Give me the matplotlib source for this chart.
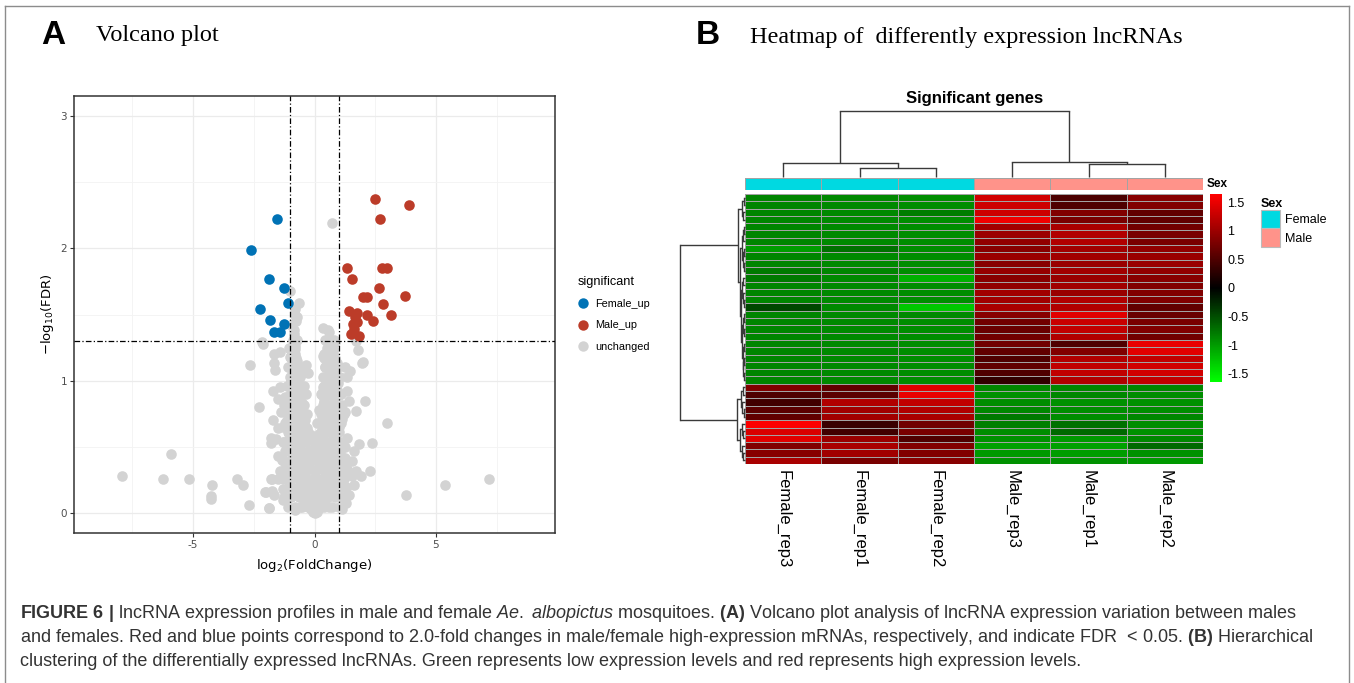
import matplotlib
matplotlib.use('Agg')
import matplotlib.pyplot as plt
import numpy as np
from matplotlib import font_manager
from matplotlib.colors import LinearSegmentedColormap, ListedColormap
from matplotlib.lines import Line2D
from matplotlib.patches import Patch

W, H = 1354, 683


def has_font(name):
    try:
        font_manager.findfont(font_manager.FontProperties(family=name), fallback_to_default=False)
        return True
    except Exception:
        return False


NARROW = 'Liberation Sans Narrow' if has_font('Liberation Sans Narrow') else 'Liberation Sans'
SANS = 'Liberation Sans'
SERIF = 'Liberation Serif'

plt.rcParams['mathtext.fontset'] = 'custom'
plt.rcParams['mathtext.rm'] = NARROW
plt.rcParams['mathtext.it'] = NARROW + ':italic'
plt.rcParams['mathtext.bf'] = NARROW + ':bold'

# ---------------- Volcano data ----------------
fc_cut = 1.0
fdr_cut = 0.05

female_up_x = [-1.56, -2.62, -1.87, -1.26, -1.11, -2.25, -1.84, -1.26, -1.67, -1.43]
female_up_y = [2.22, 1.99, 1.77, 1.70, 1.59, 1.54, 1.46, 1.43, 1.37, 1.37]

male_up_x = [2.51, 3.90, 2.71, 1.33, 2.78, 2.98, 1.54, 2.67, 2.00, 2.15, 3.74, 2.83,
             1.43, 1.76, 2.16, 3.13, 1.68, 2.42, 1.60, 1.77, 1.63, 1.51, 1.84]
male_up_y = [2.37, 2.33, 2.22, 1.85, 1.85, 1.85, 1.77, 1.70, 1.63, 1.63, 1.64, 1.58,
             1.53, 1.51, 1.50, 1.50, 1.48, 1.45, 1.43, 1.44, 1.39, 1.35, 1.34]

unchanged_points = [
    # outliers
    (-7.93, 0.28), (-5.92, 0.45), (-6.22, 0.26), (-5.17, 0.26), (-4.21, 0.21), (-4.24, 0.13),
    (-4.24, 0.11), (-3.21, 0.26), (-2.94, 0.21), (-2.69, 0.06), (-1.87, 0.04), (-2.05, 0.16),
    (-1.73, 0.17), (-1.77, 0.26), (2.98, 0.68), (2.36, 0.53), (2.29, 0.32), (3.75, 0.14),
    (5.36, 0.21), (7.20, 0.26), (0.71, 2.19), (-2.67, 1.12), (-2.18, 1.29), (-2.28, 0.80),
    (2.06, 0.85), (1.98, 1.14), (1.78, 1.23), (1.69, 1.30),
    # left arm
    (-0.99, 1.68), (-0.65, 1.59), (-0.80, 1.54), (-0.72, 1.48), (-0.82, 1.31), (-0.80, 1.26),
    (-2.12, 1.28), (-1.65, 1.20), (-1.43, 1.22), (-1.68, 1.13), (-1.62, 1.08), (-1.00, 1.18),
    (-0.80, 1.20), (-0.91, 1.08), (-0.37, 1.12), (-0.26, 1.06), (-0.65, 1.06), (-0.71, 1.00),
    (-1.08, 0.96), (-1.72, 0.92), (-1.43, 0.95), (-1.51, 0.86), (-1.22, 0.88), (-0.72, 0.93),
    (-0.37, 0.90), (-0.51, 0.83), (-1.36, 0.76), (-1.72, 0.70), (-1.15, 0.70), (-1.51, 0.64),
    (-0.94, 0.63), (-0.65, 0.68), (-1.79, 0.57), (-1.79, 0.53), (-1.58, 0.56), (-1.29, 0.54),
    (-1.51, 0.43), (-1.22, 0.47), (-1.43, 0.32), (-1.79, 0.26), (-1.51, 0.26), (-1.22, 0.28),
    (-2.00, 0.16), (-1.68, 0.14), (-1.15, 0.11), (-0.82, 0.02), (-1.86, 0.04),
    # right arm
    (0.33, 1.40), (0.60, 1.37), (0.84, 1.29), (0.77, 1.22), (0.34, 1.19), (0.70, 1.16),
    (0.91, 1.13), (0.63, 1.07), (1.26, 1.10), (1.48, 1.07), (1.34, 1.03), (1.95, 1.13),
    (0.63, 0.98), (0.91, 0.93), (1.34, 0.92), (0.34, 0.92), (1.41, 0.85), (1.26, 0.76),
    (1.69, 0.77), (0.41, 0.83), (0.63, 0.75), (1.12, 0.71), (0.77, 0.63), (1.34, 0.57),
    (1.83, 0.52), (1.62, 0.47), (1.26, 0.42), (1.55, 0.39), (1.69, 0.32), (1.90, 0.28),
    (1.55, 0.28), (1.62, 0.21), (1.41, 0.14), (1.12, 0.03),
    # central blob
    (0.00, 0.00), (-0.10, 0.02), (0.10, 0.01), (-0.05, 0.01), (0.05, 0.02), (-0.15, 0.03),
    (0.15, 0.03), (-0.25, 0.05), (0.25, 0.05), (0.00, 0.06), (-0.35, 0.08), (0.35, 0.08),
    (-0.10, 0.09), (0.12, 0.10), (-0.45, 0.11), (0.45, 0.11), (-0.60, 0.13), (0.60, 0.13),
    (-0.20, 0.14), (0.22, 0.15), (-0.75, 0.16), (0.75, 0.16), (0.00, 0.17), (-0.90, 0.18),
    (0.90, 0.18), (-0.35, 0.19), (0.38, 0.20), (-1.00, 0.21), (1.00, 0.22), (-0.55, 0.23),
    (0.55, 0.24), (-0.15, 0.25), (0.15, 0.26), (-1.10, 0.27), (1.10, 0.27), (-0.70, 0.28),
    (0.72, 0.29), (-0.40, 0.30), (0.42, 0.31), (0.00, 0.32), (-0.90, 0.33), (0.88, 0.34),
    (-0.25, 0.35), (0.27, 0.36), (-0.60, 0.37), (0.60, 0.38), (1.20, 0.36), (-1.20, 0.38),
    (-0.10, 0.40), (0.12, 0.41), (-0.80, 0.42), (0.80, 0.43), (-0.45, 0.44), (0.45, 0.45),
    (1.05, 0.46), (-1.00, 0.47), (-0.20, 0.48), (0.22, 0.49), (-0.65, 0.50), (0.65, 0.51),
    (0.95, 0.52), (-0.90, 0.53), (0.00, 0.54), (-0.35, 0.55), (0.35, 0.56), (-0.75, 0.57),
    (0.75, 0.58), (-0.15, 0.59), (0.18, 0.60), (-0.50, 0.61), (0.50, 0.62), (0.90, 0.63),
    (-1.05, 0.60), (-0.30, 0.64), (0.30, 0.66), (0.10, 0.68), (-0.70, 0.67), (0.70, 0.69),
    (1.30, 0.20), (-1.30, 0.18), (1.40, 0.30), (-1.35, 0.40), (1.25, 0.50), (-1.30, 0.10),
    (1.30, 0.08), (-0.60, 0.05), (0.60, 0.05),
    # arms, middle section
    (-1.00, 0.65), (-0.80, 0.72), (-0.60, 0.75), (-0.90, 0.80), (-0.70, 0.85), (-0.50, 0.82),
    (-1.10, 0.88), (-0.85, 0.92), (-0.60, 0.95), (-0.95, 1.00), (-0.75, 1.03), (-0.55, 1.05),
    (-0.90, 1.12), (-0.70, 1.15), (-1.05, 1.25), (-0.85, 1.35), (-0.95, 1.42), (-0.80, 1.50),
    (-1.20, 0.80), (-1.30, 0.65), (-0.40, 0.70),
    (0.30, 0.70), (0.50, 0.75), (0.70, 0.80), (0.40, 0.85), (0.60, 0.90), (0.80, 0.88),
    (1.00, 0.80), (0.35, 0.95), (0.55, 1.00), (0.75, 1.02), (0.95, 0.98), (0.45, 1.10),
    (0.65, 1.12), (0.85, 1.05), (0.50, 1.25), (0.70, 1.30), (0.40, 1.20), (1.10, 0.90),
    (1.20, 0.75), (1.00, 0.65), (0.20, 0.78), (0.25, 0.90),
    # dense core
    (-1.10, 0.05), (-0.80, 0.05), (-0.50, 0.05), (-0.20, 0.05), (0.10, 0.05), (0.40, 0.05),
    (0.70, 0.05), (1.00, 0.05),
    (-1.25, 0.12), (-0.95, 0.12), (-0.65, 0.12), (-0.35, 0.12), (-0.05, 0.12), (0.25, 0.12),
    (0.55, 0.12), (0.85, 0.12), (1.15, 0.12),
    (-1.10, 0.19), (-0.80, 0.19), (-0.50, 0.19), (-0.20, 0.19), (0.10, 0.19), (0.40, 0.19),
    (0.70, 0.19), (1.00, 0.19), (1.30, 0.19),
    (-1.30, 0.26), (-0.95, 0.26), (-0.65, 0.26), (-0.35, 0.26), (-0.05, 0.26), (0.25, 0.26),
    (0.55, 0.26), (0.85, 0.26), (1.20, 0.26),
    (-1.10, 0.33), (-0.80, 0.33), (-0.50, 0.33), (-0.20, 0.33), (0.10, 0.33), (0.40, 0.33),
    (0.70, 0.33), (1.00, 0.33), (1.35, 0.33),
    (-1.30, 0.40), (-0.95, 0.40), (-0.65, 0.40), (-0.35, 0.40), (-0.05, 0.40), (0.25, 0.40),
    (0.55, 0.40), (0.85, 0.40), (1.15, 0.40),
    (-1.10, 0.47), (-0.80, 0.47), (-0.50, 0.47), (-0.20, 0.47), (0.10, 0.47), (0.40, 0.47),
    (0.70, 0.47), (1.00, 0.47),
    (-1.25, 0.54), (-0.95, 0.54), (-0.65, 0.54), (-0.35, 0.54), (0.05, 0.54), (0.30, 0.54),
    (0.55, 0.54), (0.85, 0.54), (1.10, 0.54),
    (-1.10, 0.61), (-0.80, 0.61), (-0.50, 0.61), (-0.25, 0.61), (0.25, 0.61), (0.45, 0.61),
    (0.70, 0.61), (1.00, 0.61),
    (-1.20, 0.68), (-0.95, 0.68), (-0.70, 0.68), (-0.45, 0.68), (0.35, 0.68), (0.60, 0.68),
    (0.85, 0.68), (1.10, 0.68),
    (-1.05, 0.75), (-0.80, 0.75), (-0.55, 0.75), (-0.30, 0.75), (0.25, 0.75), (0.50, 0.75),
    (0.75, 0.75), (1.00, 0.75),
    (-1.25, 0.82), (-0.95, 0.82), (-0.70, 0.82), (-0.45, 0.82), (0.35, 0.82), (0.60, 0.82),
    (0.85, 0.82), (1.15, 0.82),
    (-1.00, 0.89), (-0.80, 0.89), (-0.55, 0.89), (0.30, 0.89), (0.50, 0.89), (0.75, 0.89),
    (1.00, 0.89),
    (-1.15, 0.96), (-0.90, 0.96), (-0.65, 0.96), (-0.45, 0.96), (0.40, 0.96), (0.65, 0.96),
    (0.90, 0.96),
    (-1.00, 1.03), (-0.80, 1.03), (-0.60, 1.03), (0.35, 1.03), (0.55, 1.03), (0.80, 1.03),
    (1.05, 1.03),
    (-1.10, 1.10), (-0.85, 1.10), (-0.65, 1.10), (0.45, 1.10), (0.70, 1.10), (0.95, 1.10),
    (-0.95, 1.17), (-0.75, 1.17), (0.40, 1.17), (0.60, 1.17), (0.85, 1.17),
    (-1.00, 1.24), (-0.80, 1.24), (0.55, 1.24), (0.75, 1.24),
    (-0.90, 1.31), (-0.70, 1.31), (0.45, 1.31), (0.80, 1.31),
    (-0.85, 1.38), (0.55, 1.38), (-0.75, 1.45),
]
unchanged_x = [p[0] for p in unchanged_points]
unchanged_y = [p[1] for p in unchanged_points]

sig_labels = ['Female_up', 'Male_up', 'unchanged']
sig_colors = ['#0072B5', '#BC3C29', '#D3D3D3']

# ---------------- Heatmap data ----------------
samples = ['Female_rep3', 'Female_rep1', 'Female_rep2', 'Male_rep3', 'Male_rep1', 'Male_rep2']
sample_sex = ['Female', 'Female', 'Female', 'Male', 'Male', 'Male']
sex_levels = ['Female', 'Male']
sex_colors = ['#00D9E1', '#FF938A']

expr_male_high = [
    [-0.85, -0.88, -0.90, 1.34, 0.48, 0.87],
    [-0.85, -0.88, -0.90, 1.31, 0.51, 0.82],
    [-0.85, -0.88, -0.80, 1.31, 0.82, 0.62],
    [-0.85, -0.88, -0.90, 1.54, 0.77, 0.62],
    [-0.85, -0.88, -0.90, 1.03, 1.08, 0.72],
    [-0.85, -0.88, -0.90, 0.99, 1.13, 0.77],
    [-0.85, -0.88, -0.90, 0.93, 1.13, 0.77],
    [-1.00, -0.72, -0.90, 0.87, 1.03, 0.93],
    [-0.85, -0.88, -0.90, 0.98, 1.03, 0.98],
    [-0.85, -0.88, -0.90, 0.87, 0.98, 0.98],
    [-0.78, -0.85, -0.90, 0.95, 1.03, 0.93],
    [-0.78, -0.88, -1.13, 0.87, 0.98, 0.87],
    [-0.85, -0.88, -0.90, 0.93, 1.03, 0.82],
    [-0.85, -0.88, -0.90, 1.03, 0.98, 0.82],
    [-0.85, -0.88, -0.90, 1.03, 1.13, 0.82],
    [-0.45, -0.88, -1.28, 1.08, 1.13, 0.62],
    [-0.85, -0.88, -0.88, 0.87, 1.44, 0.67],
    [-0.85, -0.88, -0.90, 0.72, 1.29, 0.77],
    [-0.85, -0.88, -0.90, 0.67, 1.23, 0.82],
    [-0.85, -0.88, -0.90, 0.72, 1.13, 0.72],
    [-0.85, -0.88, -0.90, 0.72, 0.51, 1.49],
    [-0.85, -0.88, -0.90, 0.62, 0.82, 1.44],
    [-0.85, -0.88, -0.90, 0.51, 1.13, 1.23],
    [-0.85, -0.88, -0.90, 0.62, 1.23, 1.34],
    [-0.85, -0.88, -0.90, 0.51, 1.23, 1.34],
    [-0.85, -0.88, -0.90, 0.31, 1.13, 1.23],
]
expr_female_high = [
    [0.82, 0.62, 1.44, -0.87, -0.87, -0.87],
    [0.51, 0.58, 1.49, -0.93, -0.87, -0.90],
    [0.41, 1.13, 1.23, -0.90, -0.93, -0.93],
    [0.58, 1.03, 1.13, -0.87, -0.90, -0.90],
    [0.62, 1.03, 1.08, -0.77, -0.90, -0.87],
    [1.62, 0.37, 0.72, -0.82, -0.72, -0.90],
    [1.39, 0.41, 0.77, -0.90, -0.67, -0.93],
    [1.44, 0.98, 0.51, -0.93, -0.98, -0.87],
    [0.82, 1.08, 0.82, -1.03, -1.03, -0.67],
    [0.87, 1.03, 0.82, -0.98, -1.00, -0.93],
    [1.08, 0.77, 0.87, -0.93, -0.93, -0.98],
]
scale_limit = 1.64
scale_ticks = [1.5, 1, 0.5, 0, -0.5, -1, -1.5]

# dendrograms: [height, left, right]; leaves are row / column indices
row_tree = [1.0,
            [0.105,
             [0.045, [0.02, 0, 1], [0.03, 2, 3]],
             [0.075,
              [0.05, [0.03, [0.015, 4, 5], 6], [0.035, [0.02, 7, 8], [0.02, 9, 10]]],
              [0.06,
               [0.045, [0.025, 11, 12], [0.03, 13, [0.015, 14, 15]]],
               [0.05, [0.03, [0.02, 16, 17], [0.02, 18, 19]],
                [0.035, [0.02, 20, 21], [0.025, [0.015, 22, 23], [0.02, 24, 25]]]]]]],
            [0.128,
             [0.06, [0.03, 26, 27], [0.04, 28, [0.02, 29, 30]]],
             [0.08, [0.04, 31, [0.025, 32, 33]], [0.05, 34, [0.03, 35, 36]]]]]
col_tree = [1.0, [0.21, 0, [0.13, 1, 2]], [0.23, 3, [0.19, 4, 5]]]

# ---------------- Figure ----------------
fig = plt.figure(figsize=(W / 100, H / 100), dpi=100)
fig.patch.set_facecolor('white')


def fbox(l, t, r, b):
    return [l / W, 1 - b / H, (r - l) / W, (b - t) / H]


def fx(px):
    return px / W


def fy(py):
    return 1 - py / H


# outer frame
for xs, ys in [([5, 5], [6, H]), ([5, 1349], [6, 6]), ([1349, 1349], [6, H])]:
    fig.add_artist(Line2D([fx(v) for v in xs], [fy(v) for v in ys], color='#8c8c8c', lw=1.0,
                          transform=fig.transFigure))

# panel titles
fig.text(fx(41), fy(36), 'A', fontsize=24, fontweight='bold', family=NARROW, va='center', ha='left')
fig.text(fx(96), fy(36), 'Volcano plot', fontsize=17.5, family=SERIF, va='center', ha='left')
fig.text(fx(696), fy(36), 'B', fontsize=24, fontweight='bold', family=NARROW, va='center', ha='left')
fig.text(fx(750), fy(37), 'Heatmap of  differently expression lncRNAs', fontsize=17.4, family=SERIF,
         va='center', ha='left')

# ---- Volcano ----
ax = fig.add_axes(fbox(74, 96, 555, 533))
ax.scatter(unchanged_x, unchanged_y, s=58, c=sig_colors[2], linewidths=0, zorder=2)
ax.scatter(female_up_x, female_up_y, s=58, c=sig_colors[0], linewidths=0, zorder=3)
ax.scatter(male_up_x, male_up_y, s=58, c=sig_colors[1], linewidths=0, zorder=3)
dash = (0, (4.5, 1.8, 1.0, 1.8))
for v in (-fc_cut, fc_cut):
    ax.axvline(v, color='black', lw=0.9, ls=dash, zorder=4)
ax.axhline(-np.log10(fdr_cut), color='black', lw=0.9, ls=dash, zorder=4)
ax.set_xlim(-9.9, 9.9)
ax.set_ylim(-0.15, 3.15)
ax.set_xticks([-5, 0, 5])
ax.set_xticklabels(['-5', '0', '5'])
ax.set_yticks([0, 1, 2, 3])
ax.set_xticks([-7.5, -2.5, 2.5, 7.5], minor=True)
ax.set_yticks([0.5, 1.5, 2.5], minor=True)
ax.grid(which='major', color='#EBEBEB', lw=0.9, zorder=0)
ax.grid(which='minor', color='#F3F3F3', lw=0.6, zorder=0)
ax.set_axisbelow(True)
for s in ax.spines.values():
    s.set_color('#333333')
    s.set_linewidth(1.1)
ax.tick_params(which='major', length=3, width=0.8, color='#333333', labelcolor='#4D4D4D',
               labelsize=7.5, pad=2)
ax.tick_params(which='minor', length=0)
ax.set_xlabel('log$_2$(FoldChange)', fontsize=9.5, family='DejaVu Sans', math_fontfamily='dejavusans',
              labelpad=5)
ax.set_ylabel('\u2212log$_{10}$(FDR)', fontsize=9.5, family='DejaVu Sans', math_fontfamily='dejavusans',
              labelpad=3)

vol_handles = [Line2D([], [], ls='none', marker='o', markersize=7.5, markerfacecolor=c,
                      markeredgewidth=0, label=l) for c, l in zip(sig_colors, sig_labels)]
leg = fig.legend(handles=vol_handles, title='significant', loc='upper left',
                 bbox_to_anchor=(fx(570), fy(268)), frameon=False, fontsize=7.8,
                 title_fontsize=9.2, handlelength=1.0, handletextpad=0.6, labelspacing=1.05,
                 borderpad=0.2, alignment='left')
for t in leg.get_texts():
    t.set_family(SANS)
leg.get_title().set_family(SANS)

# ---- Heatmap ----
expr = np.array(expr_male_high + expr_female_high)
nrow, ncol = expr.shape
cmap = LinearSegmentedColormap.from_list('gbr', ['#00FF00', '#000000', '#FF0000'], N=256)
grid_col = '#A3A3A3'

axh = fig.add_axes(fbox(745, 194, 1203, 464))
mesh = axh.pcolormesh(expr, cmap=cmap, vmin=-scale_limit, vmax=scale_limit,
                      edgecolors=grid_col, linewidth=0.6)
axh.set_xlim(0, ncol)
axh.set_ylim(nrow, 0)
for s in axh.spines.values():
    s.set_visible(False)
axh.set_yticks([])
axh.set_xticks(np.arange(ncol) + 0.5)
axh.set_xticklabels(samples, rotation=270, fontsize=12, family=SANS)
axh.tick_params(axis='x', length=0, pad=4)

# annotation bar
axa = fig.add_axes(fbox(745, 178, 1203, 190))
codes = [[sex_levels.index(s) for s in sample_sex]]
axa.pcolormesh(codes, cmap=ListedColormap(sex_colors), vmin=-0.5, vmax=1.5,
               edgecolors=grid_col, linewidth=0.7)
axa.set_xlim(0, ncol)
axa.set_ylim(1, 0)
axa.axis('off')
fig.text(fx(1207), fy(184), 'Sex', fontsize=8.5, fontweight='bold', family=SANS, va='center', ha='left')

# colour scale
cax = fig.add_axes(fbox(1210, 194, 1222, 382))
cb = fig.colorbar(mesh, cax=cax, ticks=scale_ticks)
cb.outline.set_visible(False)
cb.ax.set_yticklabels([('%g' % v) for v in scale_ticks])
cb.ax.tick_params(length=0, labelsize=9, pad=4)
for t in cb.ax.get_yticklabels():
    t.set_family(SANS)

# Sex legend
sex_handles = [Patch(facecolor=c, edgecolor='#BBBBBB', linewidth=0.8, label=l)
               for c, l in zip(sex_colors, sex_levels)]
leg2 = fig.legend(handles=sex_handles, title='Sex', loc='upper left',
                  bbox_to_anchor=(fx(1252), fy(189)), frameon=False, fontsize=9,
                  title_fontproperties={'weight': 'bold', 'size': 9, 'family': SANS},
                  handlelength=1.55, handleheight=1.9, handletextpad=0.35, labelspacing=0.0,
                  borderpad=0.2, alignment='left')
for t in leg2.get_texts():
    t.set_family(SANS)

fig.text(fx(975), fy(99), 'Significant genes', fontsize=12, fontweight='bold', family=SANS,
         ha='center', va='center')

# dendrograms
tree_col = '#3a3a3a'


def draw_tree(axd, node, horizontal):
    if isinstance(node, int):
        return node + 0.5, 0.0
    h, left, right = node
    pl, hl = draw_tree(axd, left, horizontal)
    pr, hr = draw_tree(axd, right, horizontal)
    if horizontal:
        axd.plot([hl, h], [pl, pl], color=tree_col, lw=1.0, solid_capstyle='butt', clip_on=False)
        axd.plot([hr, h], [pr, pr], color=tree_col, lw=1.0, solid_capstyle='butt', clip_on=False)
        axd.plot([h, h], [pl, pr], color=tree_col, lw=1.0, clip_on=False)
    else:
        axd.plot([pl, pl], [hl, h], color=tree_col, lw=1.0, solid_capstyle='butt', clip_on=False)
        axd.plot([pr, pr], [hr, h], color=tree_col, lw=1.0, solid_capstyle='butt', clip_on=False)
        axd.plot([pl, pr], [h, h], color=tree_col, lw=1.0, clip_on=False)
    return (pl + pr) / 2, h


axr = fig.add_axes(fbox(680, 194, 745, 464))
draw_tree(axr, row_tree, True)
axr.set_xlim(1.0, 0)
axr.set_ylim(nrow, 0)
axr.axis('off')

axc = fig.add_axes(fbox(745, 111, 1203, 177))
draw_tree(axc, col_tree, False)
axc.set_xlim(0, ncol)
axc.set_ylim(0, 1.0)
axc.axis('off')

# ---- Caption ----
cap_lines = [
    r'$\mathbf{FIGURE\ 6\ |}$ lncRNA expression profiles in male and female $\mathit{Ae.\ albopictus}$ '
    r'mosquitoes. $\mathbf{(A)}$ Volcano plot analysis of lncRNA expression variation between males',
    r'and females. Red and blue points correspond to 2.0-fold changes in male/female high-expression '
    r'mRNAs, respectively, and indicate FDR  < 0.05. $\mathbf{(B)}$ Hierarchical',
    r'clustering of the differentially expressed lncRNAs. Green represents low expression levels and '
    r'red represents high expression levels.',
]
cap_y = [613, 638, 662]
cap_texts = [fig.text(fx(20), fy(y), line, fontsize=11, family=NARROW, color='#333333',
                      va='center', ha='left', math_fontfamily='custom')
             for line, y in zip(cap_lines, cap_y)]
fig.canvas.draw()
w1 = cap_texts[0].get_window_extent().width
for t in cap_texts:
    t.set_fontsize(11 * 1273.0 / w1)

fig.savefig('out.png', dpi=100, facecolor='white')
